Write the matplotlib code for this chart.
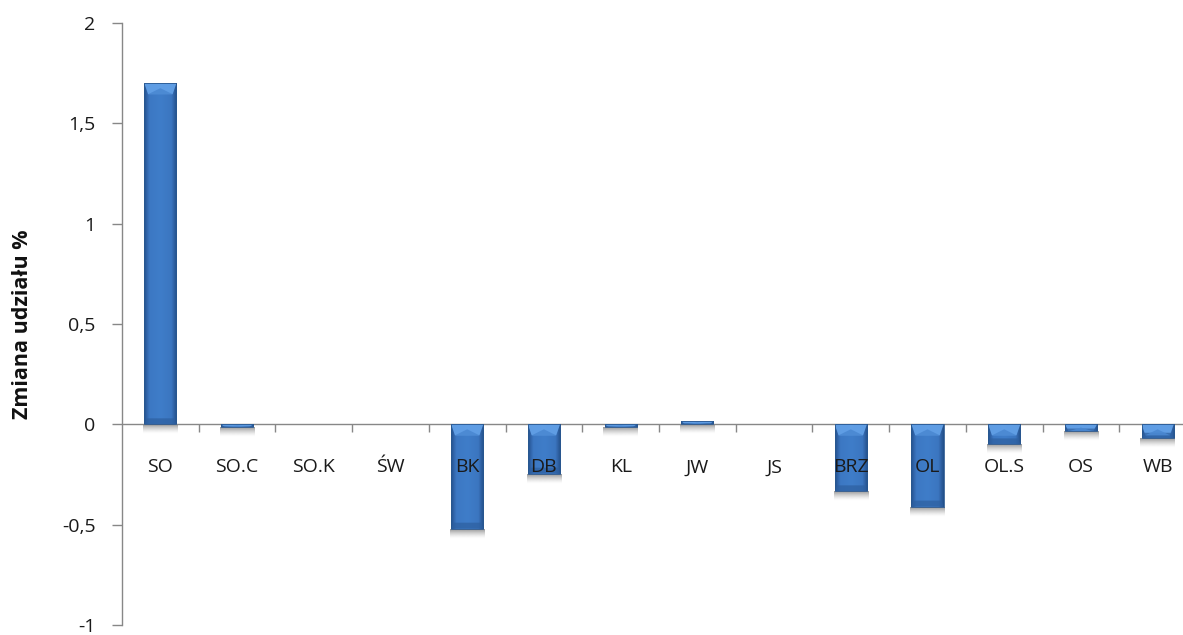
import numpy as np
import matplotlib
matplotlib.use("Agg")
import matplotlib.pyplot as plt
from matplotlib.patches import Rectangle, Polygon
from matplotlib.colors import LinearSegmentedColormap

categories = ["SO", "SO.C", "SO.K", "ŚW", "BK", "DB", "KL", "JW", "JS",
              "BRZ", "OL", "OL.S", "OS", "WB"]
values = [1.70, -0.013, 0.0, 0.0, -0.52, -0.246, -0.013, 0.016, 0.0,
          -0.334, -0.41, -0.10, -0.035, -0.07]
y_ticks = [-1, -0.5, 0, 0.5, 1, 1.5, 2]
y_tick_labels = ["-1", "-0,5", "0", "0,5", "1", "1,5", "2"]
y_label = "Zmiana udziału %"

plt.rcParams["font.family"] = ["Open Sans", "DejaVu Sans"]

W, H = 1183, 635
fig = plt.figure(figsize=(W / 100, H / 100), dpi=100)
ax_left, ax_right = 122, 1196
ax_top, ax_bottom = 23, 625
ax = fig.add_axes([ax_left / W, (H - ax_bottom) / H,
                   (ax_right - ax_left) / W, (ax_bottom - ax_top) / H])
n = len(categories)
ax.set_xlim(-0.5, n - 0.5)
ax.set_ylim(-1, 2)

grey = "#878787"
for s in ["top", "right", "bottom"]:
    ax.spines[s].set_visible(False)
ax.spines["left"].set_color(grey)
ax.spines["left"].set_linewidth(1.0)
ax.set_yticks(y_ticks)
ax.set_yticklabels(y_tick_labels, fontsize=14, color="#1a1a1a")
ax.tick_params(axis="y", length=7, width=1.0, color=grey, pad=12)
ax.set_xticks([])
ax.set_ylabel(y_label, fontsize=15.5, fontweight="bold", color="#111111")
ax.yaxis.set_label_coords(-0.083, 0.5)

# zero line and category separators
ax.axhline(0, color=grey, lw=1.0, zorder=2)
px_per_unit = (ax_bottom - ax_top) / 3.0
tick_len = 8 / px_per_unit
ax.vlines(np.arange(n - 1) + 0.5, -tick_len, 0, color=grey, lw=1.0, zorder=2)

bar_w = 0.42
body_cmap = LinearSegmentedColormap.from_list(
    "body", [(0.0, "#22508a"), (0.07, "#2f62a6"), (0.16, "#3c78c3"),
             (0.5, "#3f7dc9"), (0.84, "#3b76c0"), (0.93, "#2e5fa0"),
             (1.0, "#22508a")])
grad = np.linspace(0, 1, 64).reshape(1, -1)

# vertical fade used for the drop shadow under each bar (strong at top)
t = np.linspace(0, 1, 32).reshape(-1, 1)
shadow_rgba = np.zeros((32, 1, 4))
shadow_rgba[..., 0:3] = 0.2
shadow_rgba[..., 3] = 0.5 * (1 - t) ** 1.5
shadow_len = 10 / px_per_unit
bevel_len = 11 / px_per_unit
foot_len = 6 / px_per_unit

for i, v in enumerate(values):
    if v == 0:
        continue
    x0 = i - bar_w / 2
    lo, hi = min(0, v), max(0, v)
    # soft drop shadow below the bar's lower end
    ax.imshow(shadow_rgba, aspect="auto", interpolation="bilinear",
              extent=(x0 - 0.015, x0 + bar_w + 0.015, lo - shadow_len, lo),
              zorder=1.5)
    rect = Rectangle((x0, lo), bar_w, hi - lo, facecolor="none",
                     edgecolor="none", zorder=3)
    ax.add_patch(rect)
    im = ax.imshow(grad, cmap=body_cmap, aspect="auto",
                   extent=(x0, x0 + bar_w, lo, hi), zorder=3,
                   interpolation="bilinear")
    im.set_clip_path(rect)
    # lighter bevel on the top face
    d = min(bevel_len, hi - lo)
    inset = bar_w * 0.12
    top = Polygon([(x0, hi), (x0 + bar_w, hi),
                   (x0 + bar_w - inset, hi - d),
                   (x0 + inset, hi - d)],
                  closed=True, facecolor="#62a0e6", edgecolor="none",
                  alpha=0.95, zorder=3.2)
    ax.add_patch(top)
    top.set_clip_path(rect)
    notch = Polygon([(x0 + inset, hi - d), (x0 + bar_w - inset, hi - d),
                     (x0 + bar_w * 0.5, hi - d * 0.45)],
                    closed=True, facecolor="#4a88d2", edgecolor="none",
                    alpha=0.9, zorder=3.3)
    ax.add_patch(notch)
    notch.set_clip_path(rect)
    # darker foot at the lower end
    f = min(foot_len, (hi - lo) * 0.4)
    foot = Polygon([(x0, lo), (x0 + bar_w, lo),
                    (x0 + bar_w - inset * 0.6, lo + f),
                    (x0 + inset * 0.6, lo + f)],
                   closed=True, facecolor="#2d5f9f", edgecolor="none",
                   alpha=0.7, zorder=3.2)
    ax.add_patch(foot)
    foot.set_clip_path(rect)
    ax.add_patch(Rectangle((x0, lo), bar_w, hi - lo, facecolor="none",
                           edgecolor="#2a5890", lw=0.6, zorder=3.4))

# category labels below the zero line, drawn over the bars
for i, c in enumerate(categories):
    ax.annotate(c, (i, 0), xytext=(0, -43 * 0.72), textcoords="offset points",
                ha="center", va="center", fontsize=14, color="#1a1a1a",
                zorder=5, annotation_clip=False)

fig.savefig("out.png", dpi=100)
